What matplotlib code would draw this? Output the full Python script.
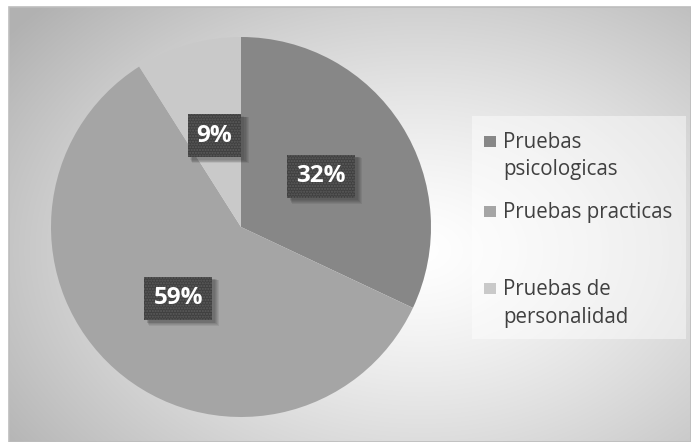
import numpy as np
import matplotlib.pyplot as plt
from matplotlib.patches import Rectangle

# data
categories = ['Pruebas psicologicas', 'Pruebas practicas', 'Pruebas de personalidad']
legend_lines = [['Pruebas', 'psicologicas'], ['Pruebas practicas'], ['Pruebas de', 'personalidad']]
values = [32, 59, 9]
colors = ['#878787', '#a5a5a5', '#c9c9c9']

W, H = 691, 442
fig = plt.figure(figsize=(W / 100, H / 100), dpi=100)
ax = fig.add_axes([0, 0, 1, 1])

def Y(y):  # pixel row -> data y
    return H - y

# background gradient inside the chart frame
x0, y0, x1, y1 = 9, 7, W, H
xs = np.arange(x0, x1)
ys = np.arange(y0, y1)
gx, gy = np.meshgrid(xs, ys)
d = np.sqrt(((gx - 420) / 430.0) ** 2 + ((gy - 250) / 300.0) ** 2)
g = 1.0 - 0.24 * np.clip(d, 0, 1.2) ** 1.3
img = np.dstack([g, g, g])
ax.imshow(img, extent=(x0, x1, Y(y1), Y(y0)), origin='upper', zorder=0, aspect='auto',
          interpolation='bilinear')
ax.add_patch(Rectangle((x0, Y(y1)), x1 - x0, y1 - y0, fill=False, ec='#bdbdbd', lw=1.2, zorder=1))

# pie
total = sum(values)
wedges, texts, autotexts = ax.pie(values, colors=colors, startangle=90, counterclock=False,
                                  center=(241, Y(227)), radius=190,
                                  autopct=lambda p: '%d%%' % round(p * total / 100.0),
                                  pctdistance=0.5, frame=True,
                                  wedgeprops=dict(linewidth=0),
                                  textprops=dict(color='white', fontsize=17.5, fontweight='bold',
                                                 family='Open Sans'))
ax.set_xlim(0, W)
ax.set_ylim(0, H)
ax.set_aspect('auto')
ax.axis('off')

# dark label boxes with soft shadow
fig.canvas.draw()
r = fig.canvas.get_renderer()
for t in autotexts:
    bb = t.get_window_extent(r)
    cx, cy = t.get_position()
    bw = bb.width + 18
    bh = 43
    for k in range(5):
        s = 1 + k
        ax.add_patch(Rectangle((cx - bw / 2 + 2 + s * 0.5, cy - bh / 2 - 2 - s * 0.8), bw + s * 0.6, bh + s * 0.6,
                               fc='black', alpha=0.07, lw=0, zorder=4))
    ax.add_patch(Rectangle((cx - bw / 2, cy - bh / 2), bw, bh, fc='#404040', ec='#5c5c5c',
                           lw=0, hatch='......', zorder=4.5))
    t.set_zorder(5)

# legend
ax.add_patch(Rectangle((472, Y(339)), 214, 223, fc='white', alpha=0.45, lw=0, zorder=2))
baselines = [148, 218, 295]
line_h = 27.5
for lines, col, b in zip(legend_lines, colors, baselines):
    ax.add_patch(Rectangle((484, Y(b - 1)), 12, 11, fc=col, lw=0, zorder=3))
    for k, ln in enumerate(lines):
        ax.text(503, Y(b + k * line_h), ln, fontsize=14.8, color='#404040',
                family='Open Sans', va='baseline', ha='left', zorder=3)

plt.savefig('out.png', dpi=100)
